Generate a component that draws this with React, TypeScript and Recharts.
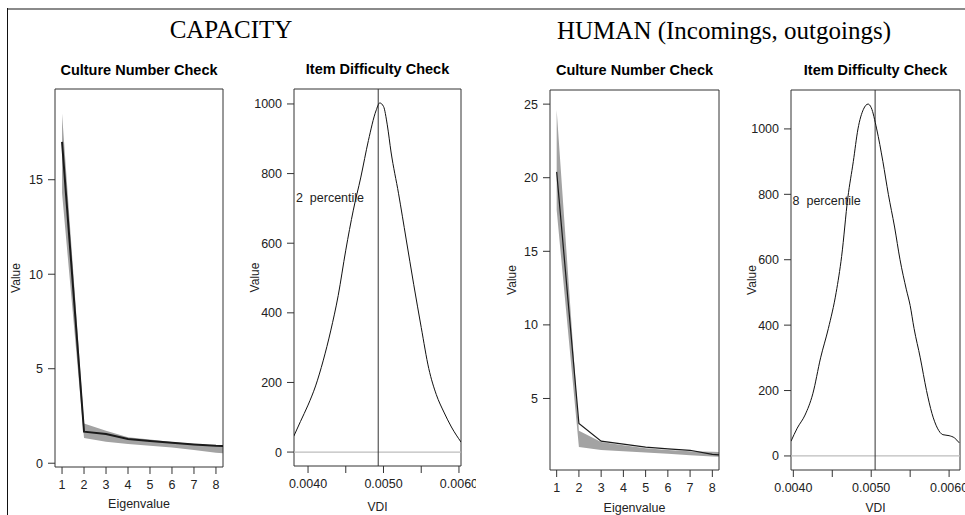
import React from "react";
import {
  ComposedChart,
  Line,
  Area,
  XAxis,
  YAxis,
  ReferenceLine,
  ReferenceArea,
  ReferenceDot,
} from "recharts";

// scree data (eigenvalue 9 only exists so the lines run off the right edge)
const eigenvalues = [1, 2, 3, 4, 5, 6, 7, 8, 9];
const capacityValue = [17.0, 1.67, 1.55, 1.28, 1.18, 1.08, 0.99, 0.92, 0.9];
const capacityBandHigh = [18.5, 2.1, 1.72, 1.38, 1.25, 1.12, 1.02, 0.94, 0.92];
const capacityBandLow = [14.3, 1.34, 1.14, 1.02, 0.92, 0.83, 0.7, 0.56, 0.45];

const humanValue = [20.4, 3.3, 2.1, 1.9, 1.7, 1.58, 1.48, 1.2, 1.1];
const humanBandHigh = [24.6, 2.8, 2.05, 1.82, 1.62, 1.5, 1.42, 1.38, 1.35];
const humanBandLow = [17.8, 1.7, 1.5, 1.42, 1.33, 1.25, 1.15, 1.05, 1.0];

// item difficulty densities
const capacityVdi = [
  0.00381, 0.0039, 0.004, 0.0041, 0.0042, 0.0043, 0.0044, 0.0045, 0.0046, 0.0047,
  0.0048, 0.0049, 0.00495, 0.005, 0.00505, 0.0051, 0.0052, 0.0053, 0.0054, 0.0055,
  0.0056, 0.0057, 0.0058, 0.0059, 0.00603,
];
const capacityDensity = [
  45, 88, 135, 190, 262, 348, 450, 580, 695, 790, 895, 980, 1003, 993, 940, 862, 742,
  612, 482, 358, 240, 165, 115, 72, 28,
];
const humanVdi = [
  0.00397, 0.00405, 0.00415, 0.00425, 0.00435, 0.00445, 0.00455, 0.00462, 0.0047,
  0.00477, 0.00483, 0.0049, 0.00496, 0.005, 0.00507, 0.00515, 0.00522, 0.0053, 0.00537,
  0.00545, 0.0055, 0.00555, 0.00563, 0.00571, 0.00578, 0.00585, 0.00592, 0.006, 0.00607,
  0.00613,
];
const humanDensity = [
  45, 85, 125, 190, 300, 390, 500, 610, 790, 900, 1000, 1060, 1076, 1065, 1000, 900, 800,
  700, 600, 510, 460, 390, 300, 200, 130, 85, 65, 62, 55, 40,
];

const capacityMarker = 0.00493;
const humanMarker = 0.00505;
const capacityPercentile = "2\u00a0\u00a0percentile";
const humanPercentile = "8\u00a0\u00a0percentile";

const eigenTicks = [1, 2, 3, 4, 5, 6, 7, 8];
const capacityValueTicks = [0, 5, 10, 15];
const humanValueTicks = [5, 10, 15, 20, 25];
const densityTicks = [0, 200, 400, 600, 800, 1000];
const vdiTicks = [0.004, 0.0045, 0.005, 0.0055, 0.006];
const vdiTickLabels = ["0.0040", "", "0.0050", "", "0.0060"];

const INK = "#333";
const tickStyle = { fill: "#222", fontSize: 12.5 };

const screeRows = (value: number[], low: number[], high: number[]) =>
  eigenvalues.map((e, i) => ({ e, value: value[i], band: [low[i], high[i]] }));

const densityRows = (vdi: number[], dens: number[]) =>
  vdi.map((v, i) => ({ v, d: dens[i] }));

type PanelProps = {
  left: number;
  top: number;
  width: number;
  height: number;
  marginTop: number;
  marginRight: number;
  yWidth: number;
  xHeight: number;
  yLabelOffset: number;
  xLabelOffset: number;
  xDomain: [number, number];
  yDomain: [number, number];
  yTicks: number[];
};

function Box({ x, y }: { x: [number, number]; y: [number, number] }) {
  return (
    <ReferenceArea x1={x[0]} x2={x[1]} y1={y[0]} y2={y[1]} fill="#fff" fillOpacity={0} stroke={INK} strokeOpacity={1} />
  );
}

const valueLabel = (offset: number) => ({
  value: "Value",
  angle: -90,
  position: "insideLeft" as const,
  offset,
  textAnchor: "middle",
  style: { textAnchor: "middle" },
  fill: "#222",
  fontSize: 12,
});

function CultureCheck(
  p: PanelProps & { value: number[]; low: number[]; high: number[]; lineWidth: number }
) {
  const rows = screeRows(p.value, p.low, p.high);
  return (
    <div style={{ position: "absolute", left: p.left, top: p.top, width: p.width, height: p.height, overflow: "hidden" }}>
      <ComposedChart
        width={p.width}
        height={p.height}
        data={rows}
        margin={{ top: p.marginTop, right: p.marginRight, bottom: 0, left: 0 }}
      >
        <XAxis
          dataKey="e"
          type="number"
          domain={p.xDomain}
          allowDataOverflow
          ticks={eigenTicks}
          interval={0}
          axisLine={false}
          tickSize={7}
          tickMargin={6}
          tickLine={{ stroke: INK }}
          tick={tickStyle}
          height={p.xHeight}
          label={{ value: "Eigenvalue", position: "insideBottom", offset: p.xLabelOffset, fill: "#222", fontSize: 12.5 }}
        />
        <YAxis
          type="number"
          domain={p.yDomain}
          allowDataOverflow
          ticks={p.yTicks}
          interval={0}
          axisLine={false}
          tickSize={7}
          tickMargin={5}
          tickLine={{ stroke: INK }}
          tick={tickStyle}
          width={p.yWidth}
          label={valueLabel(p.yLabelOffset)}
        />
        <Area dataKey="band" type="linear" fill="#a3a3a3" fillOpacity={1} stroke="none" isAnimationActive={false} />
        <Line dataKey="value" type="linear" stroke="#1a1a1a" strokeWidth={p.lineWidth} dot={false} isAnimationActive={false} />
        <Box x={p.xDomain} y={p.yDomain} />
      </ComposedChart>
    </div>
  );
}

function DifficultyCheck(
  p: PanelProps & { vdi: number[]; density: number[]; marker: number; note: string; noteX: number; noteY: number }
) {
  const rows = densityRows(p.vdi, p.density);
  return (
    <div style={{ position: "absolute", left: p.left, top: p.top, width: p.width, height: p.height, overflow: "hidden" }}>
      <ComposedChart
        width={p.width}
        height={p.height}
        data={rows}
        margin={{ top: p.marginTop, right: p.marginRight, bottom: 0, left: 0 }}
      >
        <XAxis
          dataKey="v"
          type="number"
          domain={p.xDomain}
          allowDataOverflow
          ticks={vdiTicks}
          interval={0}
          tickFormatter={(v: number) => vdiTickLabels[vdiTicks.indexOf(v)] ?? ""}
          axisLine={false}
          tickSize={7}
          tickMargin={6}
          tickLine={{ stroke: INK }}
          tick={tickStyle}
          height={p.xHeight}
          label={{ value: "VDI", position: "insideBottom", offset: p.xLabelOffset, fill: "#222", fontSize: 12 }}
        />
        <YAxis
          type="number"
          domain={p.yDomain}
          allowDataOverflow
          ticks={p.yTicks}
          interval={0}
          axisLine={false}
          tickSize={7}
          tickMargin={5}
          tickLine={{ stroke: INK }}
          tick={tickStyle}
          width={p.yWidth}
          label={valueLabel(p.yLabelOffset)}
        />
        <ReferenceLine y={0} stroke="#bdbdbd" strokeWidth={1.2} />
        <ReferenceLine x={p.marker} stroke={INK} />
        <Line dataKey="d" type="monotone" stroke="#111" strokeWidth={1} dot={false} isAnimationActive={false} />
        <ReferenceDot
          x={p.noteX}
          y={p.noteY}
          r={0}
          fill="none"
          stroke="none"
          label={{ value: p.note, position: "right", offset: 0, fill: "#222", fontSize: 12.5 }}
        />
        <Box x={p.xDomain} y={p.yDomain} />
      </ComposedChart>
    </div>
  );
}

const serif = "'Liberation Serif', 'Times New Roman', serif";

function Heading({ text, cx, top, size, bold, font }: { text: string; cx: number; top: number; size: number; bold?: boolean; font?: string }) {
  return (
    <div
      style={{
        position: "absolute",
        left: cx - 250,
        width: 500,
        top,
        textAlign: "center",
        fontSize: size,
        lineHeight: `${Math.round(size * 1.1)}px`,
        fontWeight: bold ? 700 : 400,
        fontFamily: font,
        color: "#000",
        whiteSpace: "nowrap",
      }}
    >
      {text}
    </div>
  );
}

export default function App() {
  return (
    <div
      style={{
        position: "fixed",
        left: 0,
        top: 0,
        width: 965,
        height: 515,
        background: "#fff",
        overflow: "hidden",
        fontFamily: "'Liberation Sans', Arial, sans-serif",
      }}
    >
      <div style={{ position: "absolute", left: 7, top: 8, width: 958, height: 2, background: "#8a8a8a" }} />
      <div style={{ position: "absolute", left: 7, top: 8, width: 1, height: 507, background: "#111" }} />

      <Heading text="CAPACITY" cx={231} top={16} size={25} font={serif} />
      <Heading text="HUMAN (Incomings, outgoings)" cx={724} top={17} size={25} font={serif} />

      <Heading text="Culture Number Check" cx={139} top={62} size={14.5} bold />
      <Heading text="Item Difficulty Check" cx={377.5} top={61} size={14.5} bold />
      <Heading text="Culture Number Check" cx={634.5} top={62} size={14.5} bold />
      <Heading text="Item Difficulty Check" cx={875.5} top={62} size={14.5} bold />

      <CultureCheck
        left={8}
        top={46}
        width={224}
        height={469}
        marginTop={43}
        marginRight={9}
        yWidth={47}
        xHeight={48}
        yLabelOffset={8}
        xLabelOffset={7}
        xDomain={[0.68, 8.32]}
        yDomain={[-0.2, 19.8]}
        yTicks={capacityValueTicks}
        value={capacityValue}
        low={capacityBandLow}
        high={capacityBandHigh}
        lineWidth={2}
      />
      <DifficultyCheck
        left={232}
        top={46}
        width={244}
        height={469}
        marginTop={43}
        marginRight={15}
        yWidth={62}
        xHeight={49}
        yLabelOffset={23}
        xLabelOffset={4}
        xDomain={[0.003814, 0.006027]}
        yDomain={[-40, 1043]}
        yTicks={densityTicks}
        vdi={capacityVdi}
        density={capacityDensity}
        marker={capacityMarker}
        note={capacityPercentile}
        noteX={0.00384}
        noteY={730}
      />
      <CultureCheck
        left={476}
        top={46}
        width={254}
        height={469}
        marginTop={44}
        marginRight={11}
        yWidth={74}
        xHeight={45}
        yLabelOffset={36}
        xLabelOffset={3}
        xDomain={[0.7, 8.3]}
        yDomain={[0.14, 25.96]}
        yTicks={humanValueTicks}
        value={humanValue}
        low={humanBandLow}
        high={humanBandHigh}
        lineWidth={1.2}
      />
      <DifficultyCheck
        left={730}
        top={46}
        width={235}
        height={469}
        marginTop={44}
        marginRight={5}
        yWidth={61}
        xHeight={45}
        yLabelOffset={22}
        xLabelOffset={3}
        xDomain={[0.00397, 0.00614]}
        yDomain={[-43, 1119]}
        yTicks={densityTicks}
        vdi={humanVdi}
        density={humanDensity}
        marker={humanMarker}
        note={humanPercentile}
        noteX={0.00399}
        noteY={780}
      />
    </div>
  );
}
